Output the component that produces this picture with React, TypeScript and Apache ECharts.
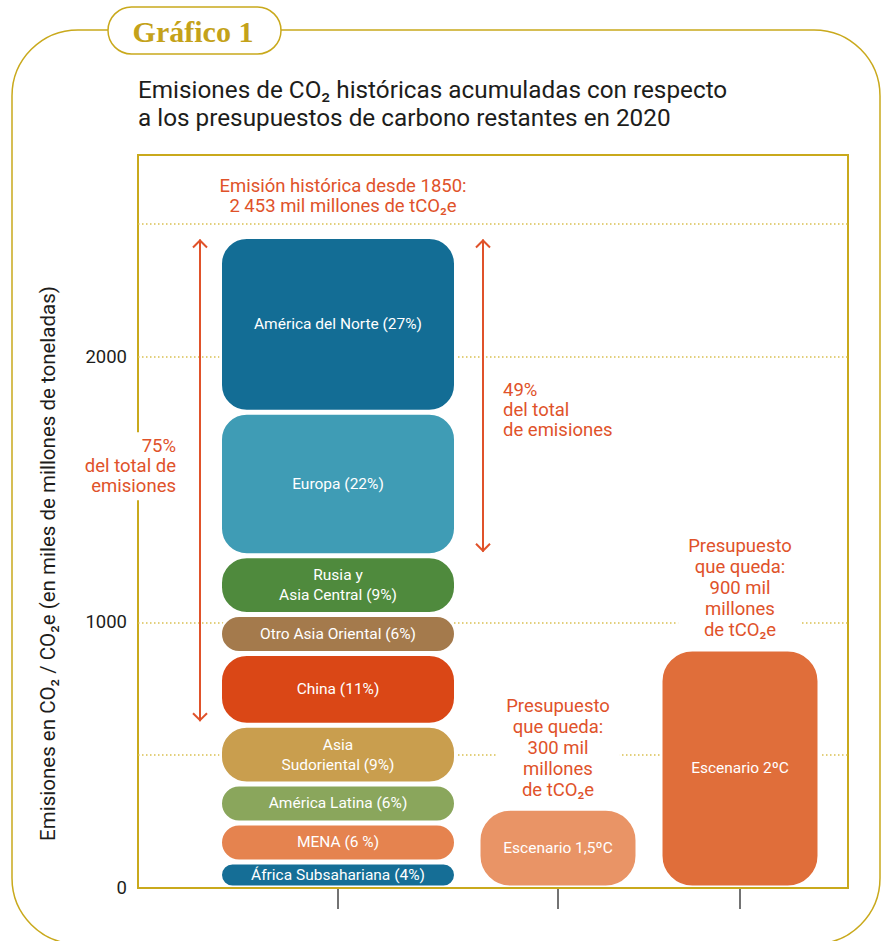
import React, { useEffect, useRef } from "react";
import * as echarts from "echarts";

// ---- data ----
const regions = [
  "África Subsahariana",
  "MENA",
  "América Latina",
  "Asia\nSudoriental",
  "China",
  "Otro Asia Oriental",
  "Rusia y\nAsia Central",
  "Europa",
  "América del Norte",
];
const shareLabels = ["4%", "6 %", "6%", "9%", "11%", "6%", "9%", "22%", "27%"];
const emissions = [98, 147, 147, 221, 270, 147, 221, 540, 662];
const historicalCategory = ["Emisión histórica"];
const scenarios = ["Escenario 1,5ºC", "Escenario 2ºC"];
const budgets = [300, 900];
const budgetTexts = [
  "Presupuesto\nque queda:\n300 mil\nmillones\nde tCO₂e",
  "Presupuesto\nque queda:\n900 mil\nmillones\nde tCO₂e",
];
const yTickLabels = [0, 1000, 2000];
const gridValues = [500, 1000, 2000, 2500];
const shareBrackets = [
  { fromIndex: 4, text: "75%\ndel total de\nemisiones", side: "left" },
  { fromIndex: 7, text: "49%\ndel total\nde emisiones", side: "right" },
];
const totalText = "Emisión histórica desde 1850:\n2 453 mil millones de tCO₂e";

// ---- styles ----
const regionColors = [
  "#156e96", "#e5834f", "#8aa65c", "#c99e4e", "#da4716",
  "#a47a4c", "#4f8a3d", "#3f9cb5", "#136d95",
];
const scenarioColors = ["#e99466", "#e06e3a"];
const GOLD = "#c9a91c";
const DOT = "#d9c050";
const ORANGE = "#e0522a";
const FONT = "Roboto";
const Y_MAX = 2760;
const ANN = 18.5;
const BAR_FS = 15.5;

export default function App() {
  const ref = useRef<HTMLDivElement>(null);
  useEffect(() => {
    document.body.style.margin = "0";
    const chart = echarts.init(ref.current!, null, { renderer: "svg" });

    const yBase = (gridIndex: number, show: boolean) => ({
      type: "value",
      gridIndex,
      min: 0,
      max: Y_MAX,
      interval: 500,
      show,
    });

    const splitColors = [0, 500, 1000, 1500, 2000, 2500, Y_MAX].map((v) =>
      gridValues.includes(v) ? DOT : "rgba(0,0,0,0)"
    );

    const histSeries = regions.map((r, i) => ({
      type: "bar",
      name: r,
      xAxisIndex: 1,
      yAxisIndex: 1,
      stack: "hist",
      barWidth: 237,
      data: [emissions[i]],
      itemStyle: {
        color: regionColors[i],
        borderColor: "#ffffff",
        borderWidth: 2.5,
        borderRadius: 26,
      },
      label: {
        show: true,
        position: "inside",
        formatter: `${r} (${shareLabels[i]})`,
        color: "#ffffff",
        fontSize: BAR_FS,
        lineHeight: 20,
        fontFamily: FONT,
      },
      emphasis: { disabled: true },
    }));

    const option: any = {
      animation: false,
      textStyle: { fontFamily: FONT },
      grid: [
        { left: 138, top: 155, width: 710, height: 733, show: true, borderColor: GOLD, borderWidth: 2, backgroundColor: "rgba(0,0,0,0)" },
        { left: 219.5, top: 155, width: 237, height: 733 },
        { left: 467, top: 155, width: 364, height: 733 },
      ],
      xAxis: [
        {
          type: "category",
          gridIndex: 0,
          data: [""],
          z: 10,
          axisLine: { show: true, lineStyle: { color: GOLD, width: 2 } },
          axisTick: { show: false },
          axisLabel: { show: false },
        },
        {
          type: "category",
          gridIndex: 1,
          data: historicalCategory,
          axisLine: { show: false },
          axisTick: { show: true, alignWithLabel: true, length: 21, lineStyle: { color: "#444", width: 1.5 } },
          axisLabel: { show: false },
        },
        {
          type: "category",
          gridIndex: 2,
          data: scenarios,
          axisLine: { show: false },
          axisTick: { show: true, alignWithLabel: true, length: 21, lineStyle: { color: "#444", width: 1.5 } },
          axisLabel: { show: false },
        },
      ],
      yAxis: [
        {
          ...yBase(0, true),
          name: "Emisiones en CO₂ / CO₂e (en miles de millones de toneladas)",
          nameLocation: "middle",
          nameGap: 80,
          nameTextStyle: { fontSize: 20.5, color: "#1d1d1b", fontFamily: FONT, padding: [0, 84, 0, 0] },
          axisLine: { show: false },
          axisTick: { show: false },
          axisLabel: {
            margin: 11,
            fontSize: 18.5,
            color: "#1d1d1b",
            fontFamily: FONT,
            formatter: (v: number) => (yTickLabels.includes(v) ? String(v) : ""),
          },
          splitLine: {
            show: true,
            lineStyle: { color: splitColors, type: [1.5, 2.5], width: 1.5 },
          },
        },
        yBase(1, false),
        yBase(2, false),
      ],
      series: [
        ...histSeries,
        {
          type: "bar",
          name: "Escenarios",
          xAxisIndex: 2,
          yAxisIndex: 2,
          barWidth: 160,
          barGap: "-100%",
          data: budgets.map((v, i) => ({ value: v, itemStyle: { color: scenarioColors[i] } })),
          itemStyle: { borderColor: "#ffffff", borderWidth: 2.5, borderRadius: 31 },
          label: {
            show: true,
            position: "inside",
            formatter: "{b}",
            color: "#ffffff",
            fontSize: BAR_FS,
            fontFamily: FONT,
          },
          emphasis: { disabled: true },
        },
        {
          type: "bar",
          name: "Presupuesto",
          xAxisIndex: 2,
          yAxisIndex: 2,
          barWidth: 160,
          barGap: "-100%",
          data: budgets,
          itemStyle: { color: "rgba(0,0,0,0)" },
          label: {
            show: true,
            position: "top",
            distance: 8,
            formatter: (p: any) => budgetTexts[p.dataIndex],
            color: ORANGE,
            fontSize: ANN,
            lineHeight: 21,
            fontFamily: FONT,
            backgroundColor: "#ffffff",
            padding: [0, 10, 0, 10],
          },
          emphasis: { disabled: true },
        },
      ],
      graphic: [
        {
          type: "rect",
          z: 1,
          shape: { x: 12, y: 30, width: 868, height: 914, r: 66 },
          style: { fill: "none", stroke: GOLD, lineWidth: 1.5 },
        },
        {
          type: "rect",
          z: 5,
          shape: { x: 108, y: 7, width: 173, height: 47, r: 23.5 },
          style: { fill: "#ffffff", stroke: GOLD, lineWidth: 1.5 },
        },
        {
          type: "text",
          z: 6,
          x: 193,
          y: 31,
          style: {
            text: "Gráfico 1",
            font: "900 30px 'Liberation Serif', serif",
            fill: "#c4a21a",
            align: "center",
            verticalAlign: "middle",
          },
        },
        {
          type: "text",
          z: 6,
          x: 138,
          y: 75,
          style: {
            text: "Emisiones de CO₂ históricas acumuladas con respecto\na los presupuestos de carbono restantes en 2020",
            font: "24.3px Roboto",
            fill: "#1d1d1b",
            lineHeight: 28,
            verticalAlign: "top",
          },
        },
      ],
    };

    chart.setOption(option);

    // annotation elements placed through the chart's own scales
    const yPix = (v: number) => chart.convertToPixel({ yAxisIndex: 0 }, v) as number;
    const cx = chart.convertToPixel({ xAxisIndex: 1 }, 0) as number;
    const total = emissions.reduce((a, b) => a + b, 0);
    const extra: any[] = [
      {
        type: "text",
        z: 20,
        x: cx + 5,
        y: yPix(total) - 21,
        style: {
          text: totalText,
          font: `${ANN}px Roboto`,
          fill: ORANGE,
          lineHeight: 20,
          align: "center",
          verticalAlign: "bottom",
        },
      },
    ];
    shareBrackets.forEach((b) => {
      const base = emissions.slice(0, b.fromIndex).reduce((a, c) => a + c, 0);
      const y1 = yPix(total) + 3;
      const y2 = yPix(base) - 4;
      const x = b.side === "left" ? cx - 138 : cx + 145;
      const st = { stroke: ORANGE, lineWidth: 2, fill: "none" };
      extra.push(
        { type: "line", z: 20, shape: { x1: x, y1, x2: x, y2 }, style: st },
        { type: "polyline", z: 20, shape: { points: [[x - 7, y1 + 8], [x, y1 + 1], [x + 7, y1 + 8]] }, style: st },
        { type: "polyline", z: 20, shape: { points: [[x - 7, y2 - 8], [x, y2 - 1], [x + 7, y2 - 8]] }, style: st }
      );
      const mid = (y1 + y2) / 2;
      extra.push({
        type: "text",
        z: 20,
        x: b.side === "left" ? cx - 158 : cx + 165,
        y: b.side === "left" ? mid - 14 : mid - 16,
        style: {
          text: b.text,
          font: `${ANN}px Roboto`,
          fill: ORANGE,
          lineHeight: 20,
          align: b.side === "left" ? "right" : "left",
          verticalAlign: b.side === "left" ? "middle" : "top",
          backgroundColor: b.side === "left" ? "#ffffff" : "transparent",
          padding: b.side === "left" ? [4, 4, 4, 4] : 0,
        },
      });
    });
    chart.setOption({ graphic: [...option.graphic, ...extra] });

    return () => chart.dispose();
  }, []);
  return <div ref={ref} style={{ width: 882, height: 941 }} />;
}
